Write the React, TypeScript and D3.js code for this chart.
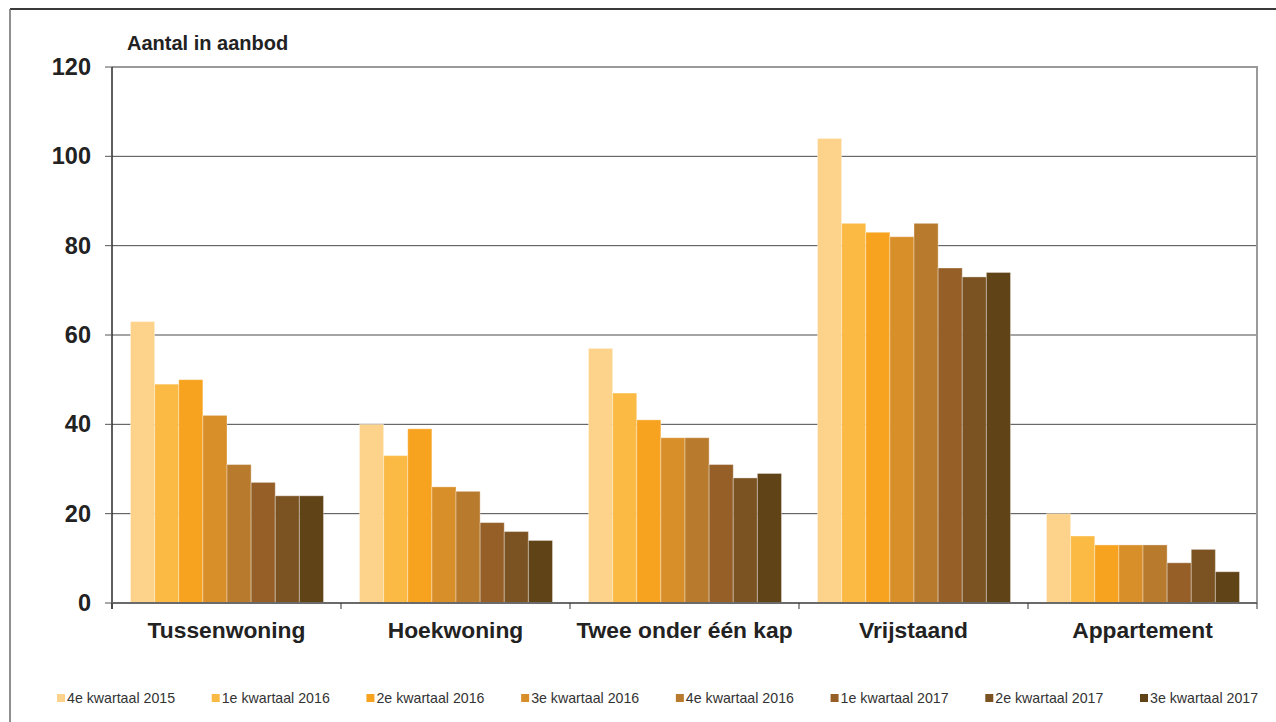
import React from "react";
import * as d3 from "d3";

// Woningtypes on the x axis
const categories = ["Tussenwoning", "Hoekwoning", "Twee onder één kap", "Vrijstaand", "Appartement"];

// Quarters shown per woningtype
const quarters = [
  "4e kwartaal 2015",
  "1e kwartaal 2016",
  "2e kwartaal 2016",
  "3e kwartaal 2016",
  "4e kwartaal 2016",
  "1e kwartaal 2017",
  "2e kwartaal 2017",
  "3e kwartaal 2017",
];

// Aantal in aanbod per quarter, one array per woningtype
const tussenwoning = [63, 49, 50, 42, 31, 27, 24, 24];
const hoekwoning = [40, 33, 39, 26, 25, 18, 16, 14];
const tweeOnderEenKap = [57, 47, 41, 37, 37, 31, 28, 29];
const vrijstaand = [104, 85, 83, 82, 85, 75, 73, 74];
const appartement = [20, 15, 13, 13, 13, 9, 12, 7];

const yTicks = [0, 20, 40, 60, 80, 100, 120];

const colors = ["#FDD28A", "#FBBA43", "#F7A31F", "#D88E29", "#B87A2D", "#955F27", "#7B5322", "#614318"];

const seriesByCategory = [tussenwoning, hoekwoning, tweeOnderEenKap, vrijstaand, appartement];

const W = 1276;
const H = 722;
const left = 112;
const right = 1257;
const top = 67;
const bottom = 603;

export default function App() {
  const x0 = d3.scaleBand<string>().domain(categories).range([left, right]).padding(0);
  const bw = x0.bandwidth();
  const x1 = d3.scaleBand<string>().domain(quarters).range([18.5, bw - 17.5]).padding(0);
  const y = d3.scaleLinear().domain([0, 120]).range([bottom, top]);
  const color = d3.scaleOrdinal<string, string>().domain(quarters).range(colors);

  const font = "'Liberation Sans', Arial, Helvetica, sans-serif";
  const bounds = [...categories.map((c) => x0(c) as number), right];
  const legendX = d3.scaleLinear().domain([0, quarters.length - 1]).range([57, 1140]);

  return (
    <div style={{ position: "fixed", left: 0, top: 0, width: W, height: H, background: "#fff" }}>
      <svg width={W} height={H} style={{ display: "block" }} fontFamily={font}>
        {/* outer frame */}
        <line x1={10} y1={9} x2={W} y2={9} stroke="#3a3a3a" strokeWidth={2} />
        <line x1={10} y1={9} x2={10} y2={H} stroke="#6a6a6a" strokeWidth={1.5} />

        {/* title */}
        <text x={127} y={50} fontSize={20} fontWeight="bold" fill="#222">
          Aantal in aanbod
        </text>

        {/* gridlines */}
        {yTicks
          .filter((t) => t > 0 && t < 120)
          .map((t) => (
            <line key={t} x1={left} x2={right} y1={y(t)} y2={y(t)} stroke="#4a4a4a" strokeWidth={1} />
          ))}
        {/* plot area top & right border */}
        <line x1={left} x2={right} y1={y(120)} y2={y(120)} stroke="#9a9a9a" strokeWidth={2} />
        <line x1={right} x2={right} y1={y(120) - 1} y2={bottom} stroke="#9a9a9a" strokeWidth={2} />

        {/* bars */}
        {categories.map((c, ci) => (
          <g key={c} transform={`translate(${x0(c)},0)`}>
            {quarters.map((q, qi) => {
              const v = seriesByCategory[ci][qi];
              return (
                <rect
                  key={q}
                  x={x1(q)}
                  y={y(v)}
                  width={x1.bandwidth()}
                  height={bottom - y(v)}
                  fill={color(q)}
                  stroke="rgba(255,255,255,0.35)"
                  strokeWidth={1}
                />
              );
            })}
          </g>
        ))}

        {/* y axis */}
        <line x1={left} x2={left} y1={y(120)} y2={bottom + 6} stroke="#2a2a2a" strokeWidth={1.5} />
        {yTicks.map((t) => (
          <g key={t}>
            <line x1={left - 7} x2={left} y1={y(t)} y2={y(t)} stroke="#555" strokeWidth={1} />
            <text
              x={91}
              y={y(t)}
              textAnchor="end"
              dominantBaseline="central"
              fontSize={23.5}
              fontWeight="bold"
              fill="#222"
            >
              {t}
            </text>
          </g>
        ))}

        {/* x axis */}
        <line x1={left} x2={right} y1={bottom} y2={bottom} stroke="#6a6a6a" strokeWidth={2} />
        {bounds.map((b, i) => (
          <line key={i} x1={b} x2={b} y1={bottom} y2={bottom + 6} stroke="#333" strokeWidth={1} />
        ))}
        {categories.map((c) => (
          <text
            key={c}
            x={(x0(c) as number) + bw / 2}
            y={638}
            textAnchor="middle"
            fontSize={22.8}
            fontWeight="bold"
            fill="#222"
          >
            {c}
          </text>
        ))}

        {/* legend */}
        {quarters.map((q, i) => (
          <g key={q} transform={`translate(${legendX(i)},698)`}>
            <rect x={0} y={-4} width={8} height={8} fill={color(q)} />
            <text x={10} y={0} dominantBaseline="central" fontSize={14.2} fill="#333">
              {q}
            </text>
          </g>
        ))}
      </svg>
    </div>
  );
}
